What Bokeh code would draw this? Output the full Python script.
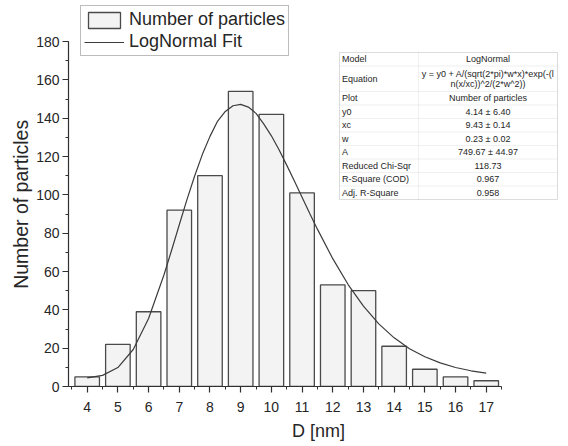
from bokeh.plotting import figure
from bokeh.models import (Range1d, SingleIntervalTicker, Legend, LegendItem,
                          BoxAnnotation, Label, Title)
from bokeh.embed import file_html
from bokeh.resources import INLINE

# ---------------- data ----------------
diameters = [4, 5, 6, 7, 8, 9, 10, 11, 12, 13, 14, 15, 16, 17]
counts = [5, 22, 39, 92, 110, 154, 142, 101, 53, 50, 21, 9, 5, 3]

fit_x = [4.0, 4.5, 5.0, 5.5, 6.0, 6.5, 6.75, 7.0, 7.25, 7.5, 7.75, 8.0, 8.25, 8.5,
         8.75, 9.0, 9.25, 9.5, 9.75, 10.0, 10.25, 10.5, 10.75, 11.0, 11.25, 11.5,
         12.0, 12.5, 13.0, 13.5, 14.0, 14.5, 15.0, 15.5, 16.0, 16.5, 17.0]
fit_y = [4.5, 5.8, 9.9, 19.3, 35.5, 58.2, 71.1, 84.4, 97.5, 109.8, 121.0, 130.5,
         138.5, 143.5, 146.5, 147.2, 145.8, 142.5, 137.0, 130.8, 123.5, 115.5,
         107.2, 98.8, 90.3, 82.1, 66.7, 53.2, 41.9, 32.7, 25.4, 19.7, 15.5, 12.3,
         9.9, 8.2, 7.0]

y_title = "Number of particles"
x_title = "D [nm]"

table_names = ["Model", "Equation", "Plot", "y0", "xc", "w", "A",
               "Reduced Chi-Sqr", "R-Square (COD)", "Adj. R-Square"]
table_values = ["LogNormal",
                ["y = y0 + A/(sqrt(2*pi)*w*x)*exp(-(l", "n(x/xc))^2/(2*w^2))"],
                "Number of particles", "4.14 \u00b1 6.40", "9.43 \u00b1 0.14",
                "0.23 \u00b1 0.02", "749.67 \u00b1 44.97", "118.73", "0.967", "0.958"]

FONT = "Liberation Sans"
TXT = "#262626"

# ---------------- figure ----------------
p = figure(width=568, height=446, x_range=Range1d(3.391, 19.68),
           y_range=Range1d(0, 201.4), output_backend="svg", toolbar_location=None,
           min_border_left=68, min_border_right=0, min_border_top=0,
           min_border_bottom=60)
p.outline_line_color = None
p.xgrid.visible = False
p.ygrid.visible = False
p.background_fill_color = "white"

bars = p.vbar(x=diameters, top=counts, width=0.8, bottom=0,
              fill_color="#f3f3f3", line_color="#4a4a4a", line_width=1.3)
fit = p.line(fit_x, fit_y, line_color="#3c3c3c", line_width=1.2)

# axes
for ax in (p.xaxis[0], p.yaxis[0]):
    ax.axis_line_color = "#303030"
    ax.axis_line_width = 1.2
    ax.major_tick_line_color = "#303030"
    ax.minor_tick_line_color = "#303030"
    ax.major_tick_line_width = 1.2
    ax.minor_tick_line_width = 1
    ax.major_tick_in = 0
    ax.major_tick_out = 6
    ax.minor_tick_in = 0
    ax.minor_tick_out = 3
    ax.major_label_text_font = FONT
    ax.major_label_text_font_size = "14px"
    ax.major_label_text_color = TXT
    ax.axis_label_text_font = FONT
    ax.axis_label_text_font_style = "normal"
    ax.axis_label_text_color = TXT

p.xaxis.ticker = SingleIntervalTicker(interval=1, num_minor_ticks=2)
p.xaxis.bounds = (3.4, 17.5)
p.xaxis.axis_label = x_title
p.xaxis.axis_label_text_font_size = "18px"
p.xaxis.major_label_standoff = 9
p.xaxis.axis_label_standoff = 6

p.yaxis.ticker = SingleIntervalTicker(interval=20, num_minor_ticks=2)
p.yaxis.bounds = (0, 180)
p.yaxis.major_label_standoff = 3

# y axis title as a side title; trailing no-break spaces move the visible
# text down so that it sits where the reference draws it
p.add_layout(Title(text=y_title + "\u00a0" * 4, align="center",
                   text_font=FONT, text_font_size="19.5px",
                   text_font_style="normal", text_color=TXT, standoff=4), "left")

# ---------------- layout helpers (frame relative screen units) ----------------
FB = 386.0   # page y of frame bottom
FL = 68.0    # page x of frame left


def sx(px):
    return px - FL


def sy(py):
    return FB - py


# legend (top edge at page y 8, left edge at page x 80, height ~48)
legend = Legend(items=[LegendItem(label="Number of particles", renderers=[bars]),
                       LegendItem(label="LogNormal Fit", renderers=[fit])],
                location=(sx(80), sy(8) - 48), padding=3, spacing=1, margin=0,
                glyph_width=40, glyph_height=20, label_height=20,
                label_standoff=5, label_text_font=FONT,
                label_text_font_size="18px", label_text_color=TXT,
                border_line_color="#7a7a7a", border_line_width=1,
                background_fill_color="white", background_fill_alpha=1)
p.add_layout(legend)

# ---------------- fit parameter table ----------------
t_left, t_mid, t_right = 339.0, 418.0, 557.0
row_h = 13.5
row_heights = [13.5, 25.5] + [row_h] * 8
t_top = 52.0

t_bottom = t_top + sum(row_heights)
p.add_layout(BoxAnnotation(left=sx(t_left), right=sx(t_right), top=sy(t_top),
                           bottom=sy(t_bottom), left_units="screen",
                           right_units="screen", top_units="screen",
                           bottom_units="screen", fill_color="white",
                           fill_alpha=1, line_color=None))
y = t_top
for name, val, h in zip(table_names, table_values, row_heights):
    for a, b in ((t_left, t_mid), (t_mid, t_right)):
        p.add_layout(BoxAnnotation(left=sx(a), right=sx(b), top=sy(y),
                                   bottom=sy(y + h), left_units="screen",
                                   right_units="screen", top_units="screen",
                                   bottom_units="screen", fill_alpha=0,
                                   line_color="#e2e2e2", line_width=1))
    cy = y + h / 2
    p.add_layout(Label(x=sx(t_left + 2.5), y=sy(cy), x_units="screen",
                       y_units="screen", text=name, text_font=FONT,
                       text_font_size="9px", text_color=TXT,
                       text_baseline="middle", text_align="left"))
    lines = val if isinstance(val, list) else [val]
    n = len(lines)
    for i, ln in enumerate(lines):
        ly = cy + (i - (n - 1) / 2) * 10.5
        p.add_layout(Label(x=sx((t_mid + t_right) / 2), y=sy(ly), x_units="screen",
                           y_units="screen", text=ln, text_font=FONT,
                           text_font_size="9px", text_color=TXT,
                           text_baseline="middle", text_align="center"))
    y += h

p.add_layout(BoxAnnotation(left=sx(t_left), right=sx(t_right), top=sy(t_top),
                           bottom=sy(t_bottom), left_units="screen",
                           right_units="screen", top_units="screen",
                           bottom_units="screen", fill_alpha=0,
                           line_color="#a0a0a0", line_width=1))

open("out.html", "w").write(file_html(p, INLINE))
